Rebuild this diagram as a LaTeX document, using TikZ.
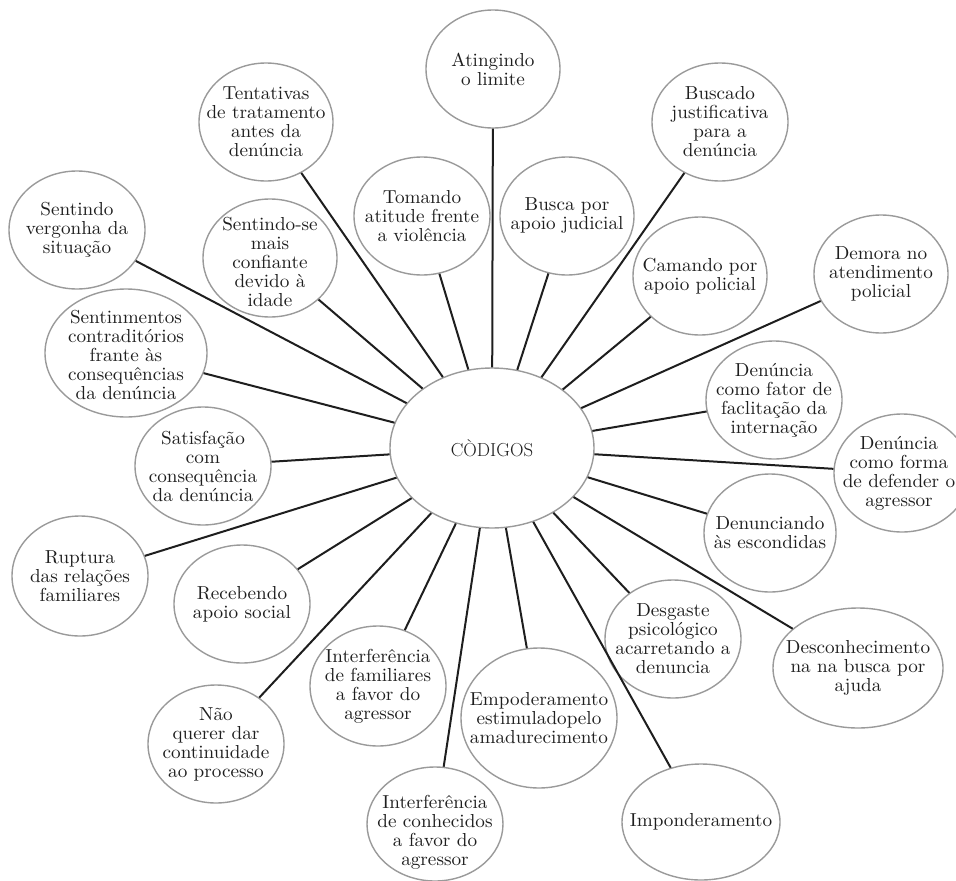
\documentclass[tikz,border=0pt]{standalone}
\usepackage{fontspec}
\newfontfamily\bubfont{lmroman10-regular.otf}[FakeStretch=1.02]
\usetikzlibrary{shapes.geometric}
\definecolor{ring}{HTML}{9A9A9A}
\definecolor{ink}{HTML}{1E1E1E}
\newcommand{\bubnode}[8]{%
  \node[bub, minimum width=#4pt, minimum height=#5pt] (#1) at (#2,#3) {};
  \node[txt] (#1t) at ([xshift=#6pt,yshift=#7pt]#1.center) {#8};}
\begin{document}
\begin{tikzpicture}[x=1pt,y=-1pt,
  bub/.style={ellipse, draw=ring, line width=1.4pt, fill=white, inner sep=0pt},
  txt/.style={align=center, text=ink, font=\bubfont\fontsize{18.8}{19}\selectfont, inner sep=0pt},
  ctxt/.style={text=ink, font=\fontsize{18.8}{19}\selectfont, inner sep=0pt},
  link/.style={draw=ink, line width=2pt}]
\clip (0,0) rectangle (956,881);
\node[bub, minimum width=204pt, minimum height=160pt] (c) at (492,448) {};
\node[ctxt] (ct) at (c.center) {CÒDIGOS};
\bubnode{a1}{493}{69}{134}{118}{0}{0}{Atingindo\\o limite}
\bubnode{a2}{266}{122}{134}{118}{0}{0}{Tentativas\\de tratamento\\antes da\\denúncia}
\bubnode{a3}{720}{122}{136}{118}{0}{0}{Buscado\\justificativa\\para a\\denúncia}
\bubnode{a4}{77}{230}{136}{118}{0}{0}{Sentindo\\vergonha da\\situação}
\bubnode{a5}{270}{258}{134}{118}{0}{-4}{Sentindo-se\\mais\\confiante\\devido à\\idade}
\bubnode{a6}{422}{216}{136}{118}{0}{0}{Tomando\\atitude frente\\a violência}
\bubnode{a7}{567}{216}{134}{118}{0}{0}{Busca por\\apoio judicial}
\bubnode{a8}{700}{276}{134}{118}{0}{0}{Camando por\\apoio policial}
\bubnode{a9}{881}{274}{134}{118}{0}{0}{Demora no\\atendimento\\policial}
\bubnode{a10}{126}{353}{162}{128}{0}{-2}{Sentinmentos\\contraditórios\\frante às\\consequências\\da denúncia}
\bubnode{a11}{203}{466}{136}{118}{0}{0}{Satisfação\\com\\consequência\\da denúncia}
\bubnode{a12}{774}{400}{136}{118}{0}{0}{Denúncia\\como fator de\\faclitação da\\internação}
\bubnode{a13}{902}{473}{136}{118}{-3}{0}{Denúncia\\como forma\\de defender o\\agressor}
\bubnode{a14}{770}{533}{132}{118}{0}{0}{Denunciando\\às escondidas}
\bubnode{a15}{80}{576}{136}{120}{0}{0}{Ruptura\\das relações\\familiares}
\bubnode{a16}{242}{604}{136}{118}{0}{0}{Recebendo\\apoio social}
\bubnode{a17}{378}{686}{136}{120}{0}{0}{Interferência\\de familiares\\a favor do\\agressor}
\bubnode{a18}{216}{744}{136}{118}{0}{0}{Não\\querer dar\\continuidade\\ao processo}
\bubnode{a19}{435}{824}{136}{114}{0}{-8}{Interferência\\de conhecidos\\a favor do\\agressor}
\bubnode{a20}{539}{718}{156}{140}{0}{0}{Empoderamento\\estimuladopelo\\amadurecimento}
\bubnode{a21}{701}{822}{158}{116}{0}{0}{Imponderamento}
\bubnode{a22}{673}{639}{136}{118}{0}{0}{Desgaste\\psicológico\\acarretando a\\denuncia}
\bubnode{a23}{858}{668}{170}{120}{0}{0}{Desconhecimento\\na na busca por\\ajuda}
\foreach \n in {a1,a2,a3,a4,a5,a6,a7,a8,a9,a10,a11,a12,a13,a14,a15,a16,a17,a18,a19,a20,a21,a22,a23}
  \draw[link] (c) -- (\n);
\end{tikzpicture}
\end{document}
